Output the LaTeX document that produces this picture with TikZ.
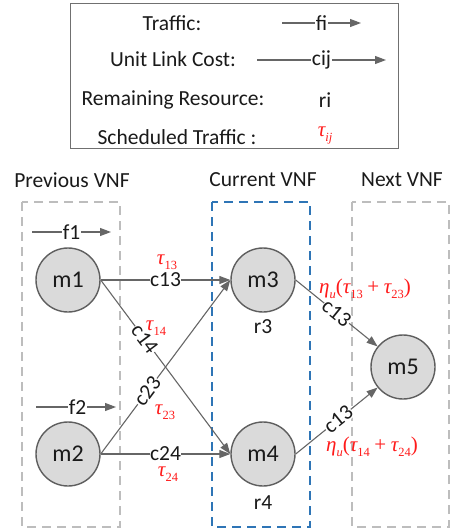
\documentclass[tikz,border=0pt]{standalone}
\usepackage{fontspec}
\setmainfont{Carlito}
\newfontfamily\tnr{Liberation Serif}
\usetikzlibrary{arrows.meta}

\definecolor{edgegray}{HTML}{666666}
\definecolor{rimgray}{HTML}{5E5E5E}
\definecolor{fillgray}{HTML}{DADADA}
\definecolor{boxgray}{HTML}{BDBDBD}
\definecolor{vnfblue}{HTML}{2E75B6}
\definecolor{framegray}{HTML}{707070}
\definecolor{inkred}{HTML}{FF1A1A}
\definecolor{ink}{HTML}{1A1A1A}

% italic Times-like symbol with a small lowered subscript
\newcommand\symsub[2]{{\tnr\itshape #1}{\tnr\fontsize{12.5}{12.5}\selectfont\raisebox{-5pt}{#2}}}
\newcommand\plussign{{\tnr\hspace{4.5pt}+\hspace{4.5pt}}}

\tikzset{
  every node/.style={font=\fontsize{21.5}{25}\selectfont, text=ink},
  vnfnode/.style={circle, draw=rimgray, line width=1.4pt, fill=fillgray,
    minimum size=64pt, inner sep=0pt, font=\fontsize{24}{27}\selectfont},
  link/.style={draw=edgegray, line width=1.1pt,
    -{Triangle[length=11pt,width=8pt]}},
  costlbl/.style={fill=white, inner sep=0.5pt},
  sched/.style={text=inkred, font=\fontsize{21}{24}\selectfont},
  region/.style={line width=1.5pt, dash pattern=on 9pt off 6pt},
}

\begin{document}
\begin{tikzpicture}[x=1pt,y=-1pt]
\useasboundingbox (0,0) rectangle (450,528);

% legend
\draw[framegray, line width=1pt] (70,3) rectangle (398,148);
\node (lt) at (172,23) {Traffic:};
\node (lc) at (173,59) {Unit Link Cost:};
\node (lr) at (173,100) {Remaining Resource:};
\node (ls) at (177,137) {Scheduled Traffic :};
\coordinate (ta) at (282,23);
\coordinate (tb) at (361,23);
\coordinate (ca) at (257,60);
\coordinate (cb) at (386,60);
\draw[link] (ta) -- node[costlbl] {fi} (tb);
\draw[link] (ca) -- node[costlbl] {cij} (cb);
\node (lri) at (325,100) {ri};
\node[sched] (ltau) at (325,136) {\symsub{τ}{\itshape ij}};

% column headings
\node (hp) at (72,180) {Previous VNF};
\node (hc) at (263,180) {Current VNF};
\node (hn) at (402,180) {Next VNF};

% VNF regions
\draw[region, boxgray] (22,202) rectangle (120,527);
\draw[region, vnfblue] (212,202) rectangle (310,527);
\draw[region, boxgray] (352,202) rectangle (449,527);

% instances
\node[vnfnode] (m1) at (68,280) {m1};
\node[vnfnode] (m2) at (68,454) {m2};
\node[vnfnode] (m3) at (263,280) {m3};
\node[vnfnode] (m4) at (263,454) {m4};
\node[vnfnode] (m5) at (403,367) {m5};
\node (r3) at (263,327) {r3};
\node (r4) at (263,503) {r4};

% incoming traffic
\coordinate (f1a) at (32,232);
\coordinate (f1b) at (111,232);
\coordinate (f2a) at (36,407);
\coordinate (f2b) at (116,407);
\draw[link] (f1a) -- node[costlbl, pos=0.5] {f1} (f1b);
\draw[link] (f2a) -- node[costlbl, pos=0.52] {f2} (f2b);

% links between VNFs
\draw[link] (m1.east) -- node[costlbl, pos=0.5] {c13} (m3.west);
\draw[link] (m1.east) -- node[costlbl, sloped, pos=0.34] {c14} (m4.west);
\draw[link] (m2.east) -- node[costlbl, sloped, pos=0.36] {c23} (m3.west);
\draw[link] (m2.east) -- node[costlbl, pos=0.5] {c24} (m4.west);
\draw[link] (m3.east) -- node[costlbl, sloped, pos=0.5] {c13} (m5);
\draw[link] (m4.east) -- node[costlbl, sloped, pos=0.52] {c13} (m5);

% scheduled traffic
\node[sched] (t13) at (167,262) {\symsub{τ}{13}};
\node[sched] (t14) at (156,328) {\symsub{τ}{14}};
\node[sched] (t23) at (165,412) {\symsub{τ}{23}};
\node[sched] (t24) at (168,474) {\symsub{τ}{24}};
\node[sched] (e1) at (365,289) {\symsub{η}{\itshape u}{\tnr(}\symsub{τ}{13}\plussign\symsub{τ}{23}{\tnr)}};
\node[sched] (e2) at (372,447) {\symsub{η}{\itshape u}{\tnr(}\symsub{τ}{14}\plussign\symsub{τ}{24}{\tnr)}};
\end{tikzpicture}
\end{document}
